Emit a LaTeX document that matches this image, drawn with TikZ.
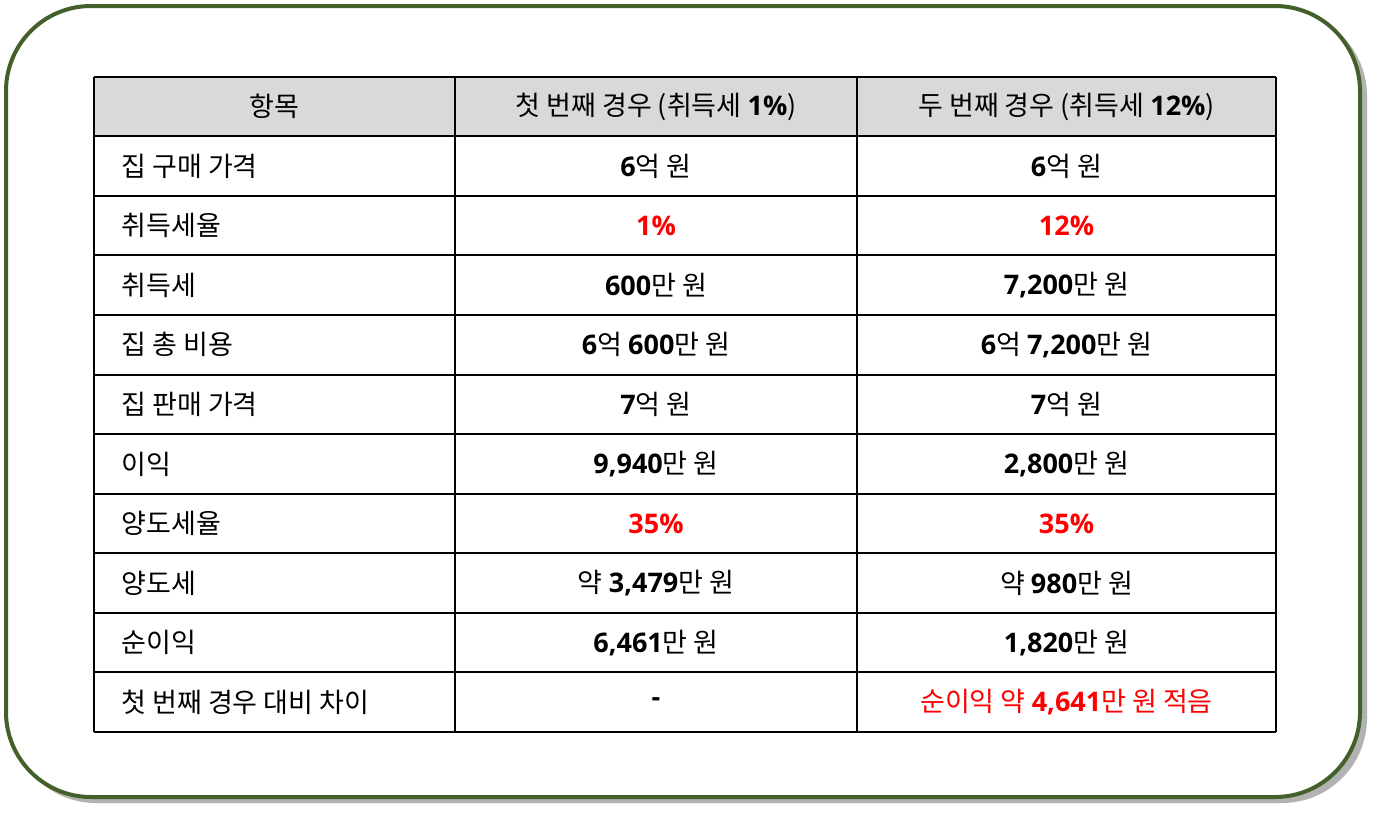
\documentclass[tikz,border=0pt]{standalone}
\usepackage{fontspec}
\setmainfont{Noto Sans CJK KR}
\newfontfamily\lat{Open Sans}
\definecolor{frame}{HTML}{44602A}
\definecolor{hdr}{HTML}{D9D9D9}
\definecolor{rd}{HTML}{FF0000}
\newcommand{\N}[1]{{\lat\bfseries #1}}
\begin{document}
\begin{tikzpicture}[x=1pt,y=-1pt,
  cell/.style={font=\fontsize{27}{32}\selectfont, anchor=center},
  lcell/.style={font=\fontsize{27}{32}\selectfont, anchor=west}]
\useasboundingbox (0,0) rectangle (1375,812);
\fill[black!30,rounded corners=85pt] (11,11) rectangle (1367,803);
\draw[frame,line width=4pt,fill=white,rounded corners=85pt] (6,6) rectangle (1360,797);
\fill[hdr] (94,77) rectangle (1276,136);
\foreach \y in {77,136,196,255,315,375,434,494,553,613,672,732}
  \draw[line width=1.2pt] (94,\y) -- (1276,\y);
\foreach \x in {94,455,857,1276}
  \draw[line width=1.2pt] (\x,77) -- (\x,732);
\node[cell] (h1) at (274.5,106.5) {항목};
\node[cell] (h2) at (656,106.5) {첫 번째 경우 (취득세 \N{1\%})};
\node[cell] (h3) at (1066.5,106.5) {두 번째 경우 (취득세 \N{12\%})};
\foreach \i/\a/\b/\c in {
 0/집 구매 가격/\N{6}억 원/\N{6}억 원,
 1/취득세율/{\color{rd}\N{1\%}}/{\color{rd}\N{12\%}},
 2/취득세/\N{600}만 원/{\N{7,200}만 원},
 3/집 총 비용/{\N{6}억 \N{600}만 원}/{\N{6}억 \N{7,200}만 원},
 4/집 판매 가격/\N{7}억 원/\N{7}억 원,
 5/이익/{\N{9,940}만 원}/{\N{2,800}만 원},
 6/양도세율/{\color{rd}\N{35\%}}/{\color{rd}\N{35\%}},
 7/양도세/{약 \N{3,479}만 원}/약 \N{980}만 원,
 8/순이익/{\N{6,461}만 원}/{\N{1,820}만 원},
 9/첫 번째 경우 대비 차이/\N{-}/{\color{rd}순이익 약 \N{4,641}만 원 적음}}
{
  \node[lcell] (a\i) at (118,166+\i*59.6) {\a};
  \node[cell] (b\i) at (656,166+\i*59.6) {\b};
  \node[cell] (c\i) at (1066.5,166+\i*59.6) {\c};
}
\end{tikzpicture}
\end{document}
